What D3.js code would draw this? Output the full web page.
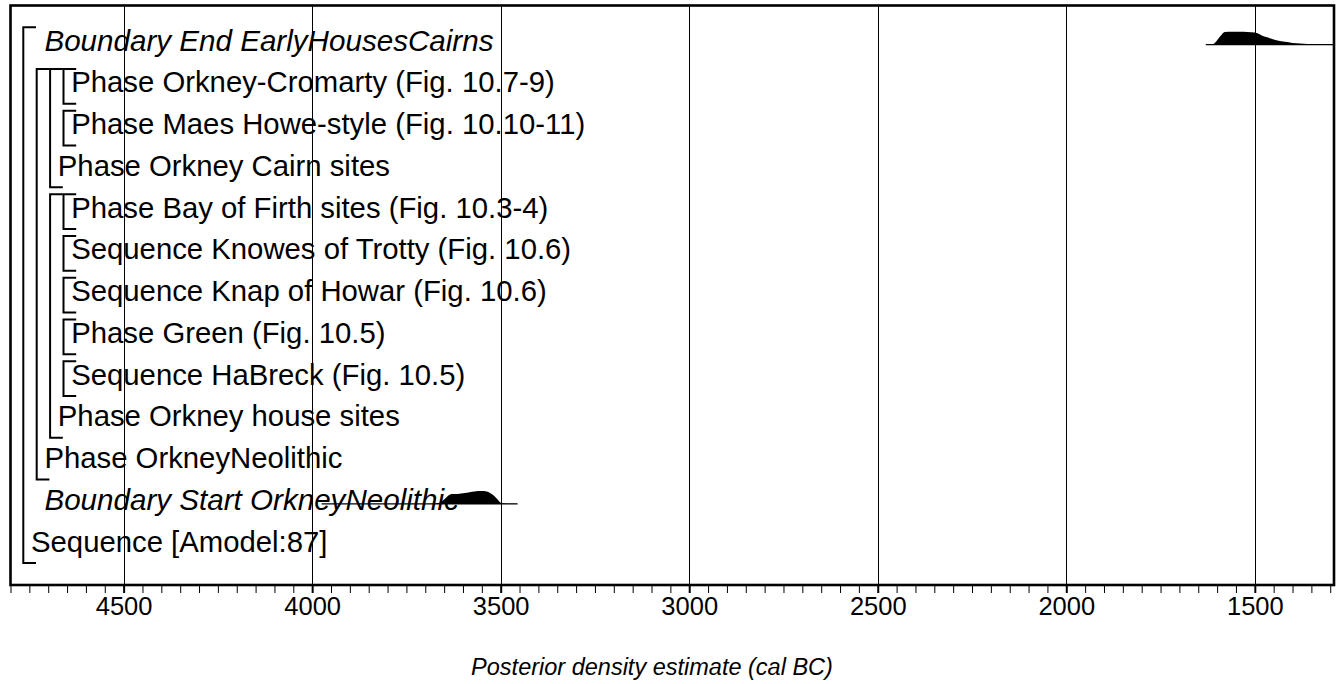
<!DOCTYPE html>
<html>
<head>
<meta charset="utf-8">
<script src="https://cdn.jsdelivr.net/npm/d3@7"></script>
<style>
  body { margin: 0; background: #fff; }
  svg text { font-family: "Liberation Sans", Arial, sans-serif; fill: #000; }
</style>
</head>
<body>
<svg id="chart" width="1337" height="684"></svg>
<script>
// OxCal-style multiplot: model structure with two boundary posteriors

const rowLabels = [
  "Boundary End EarlyHousesCairns",
  "Phase Orkney-Cromarty (Fig. 10.7-9)",
  "Phase Maes Howe-style (Fig. 10.10-11)",
  "Phase Orkney Cairn sites",
  "Phase Bay of Firth sites (Fig. 10.3-4)",
  "Sequence Knowes of Trotty (Fig. 10.6)",
  "Sequence Knap of Howar (Fig. 10.6)",
  "Phase Green (Fig. 10.5)",
  "Sequence HaBreck (Fig. 10.5)",
  "Phase Orkney house sites",
  "Phase OrkneyNeolithic",
  "Boundary Start OrkneyNeolithic",
  "Sequence [Amodel:87]"
];
const rowDepth = [1, 3, 3, 2, 3, 3, 3, 3, 3, 2, 1, 1, 0];
const rowItalic = [true, false, false, false, false, false, false, false, false, false, false, true, false];

// [first row, last row, nesting depth]
const brackets = [
  [0, 12, 0], [1, 10, 1], [1, 3, 2], [1, 1, 3], [2, 2, 3],
  [4, 9, 2], [4, 4, 3], [5, 5, 3], [6, 6, 3], [7, 7, 3], [8, 8, 3]
];

// posterior densities (cal BC, relative)
const endYears   = [1630, 1620, 1610, 1600, 1590, 1580, 1560, 1540, 1520, 1500, 1490, 1480, 1460, 1440, 1420, 1400, 1380, 1360, 1340, 1320, 1300, 1280, 1250];
const endDensity = [0, 0.01, 0.05, 0.35, 0.7, 0.98, 1.0, 0.99, 0.97, 0.94, 0.84, 0.68, 0.5, 0.33, 0.22, 0.14, 0.09, 0.05, 0.03, 0.015, 0.008, 0.004, 0];
const startYears   = [3975, 3800, 3700, 3680, 3670, 3660, 3650, 3640, 3630, 3620, 3610, 3600, 3590, 3580, 3570, 3560, 3550, 3540, 3530, 3520, 3510, 3500, 3490, 3480, 3455];
const startDensity = [0, 0, 0.005, 0.02, 0.05, 0.12, 0.35, 0.6, 0.72, 0.76, 0.79, 0.82, 0.86, 0.92, 0.96, 0.99, 1.0, 0.97, 0.88, 0.68, 0.4, 0.1, 0.03, 0.01, 0];

const distributions = [
  { row: 0, years: endYears, density: endDensity },
  { row: 11, years: startYears, density: startDensity }
];

const gridYears = [4500, 4000, 3500, 3000, 2500, 2000, 1500];
const tickYears = d3.range(4800, 1290, -50);
const axisTitle = "Posterior density estimate (cal BC)";

// layout
const svg = d3.select('#chart');
const plotLeft = 10.5, plotRight = 1334, plotTop = 5.5, plotBottom = 585;

const x = d3.scaleLinear().domain([4800, 1290]).range([plotLeft, plotRight]);
const y = d3.scaleBand().domain(d3.range(rowLabels.length)).range([17.7, 560.45]);
const h = d3.scaleLinear().domain([0, 1]).range([0, 13]);
const baseline = i => y(i) + 33;
const indent = 13.4;

svg.append('rect').attr('width', 1337).attr('height', 684).attr('fill', '#fff');

svg.append('clipPath').attr('id', 'plot-clip')
  .append('rect')
  .attr('x', plotLeft).attr('y', plotTop)
  .attr('width', plotRight - plotLeft).attr('height', plotBottom - plotTop);

// grid lines
svg.append('g').selectAll('line')
  .data(gridYears)
  .enter().append('line')
  .attr('x1', d => Math.round(x(d)) + 0.5)
  .attr('x2', d => Math.round(x(d)) + 0.5)
  .attr('y1', plotTop)
  .attr('y2', plotBottom)
  .attr('stroke', '#000')
  .attr('stroke-width', 1);

// distributions
const plot = svg.append('g').attr('clip-path', 'url(#plot-clip)');
distributions.forEach(dist => {
  const pts = dist.years.map((yr, i) => ({ yr: yr, p: dist.density[i] }));
  const b = baseline(dist.row) - 6;
  const area = d3.area()
    .x(d => x(d.yr))
    .y0(b)
    .y1(d => b - h(d.p))
    .curve(d3.curveMonotoneX);
  plot.append('path')
    .datum(pts)
    .attr('d', area)
    .attr('fill', '#000');
  plot.append('line')
    .attr('x1', x(d3.max(dist.years)))
    .attr('x2', x(d3.min(dist.years)))
    .attr('y1', b)
    .attr('y2', b)
    .attr('stroke', '#000')
    .attr('stroke-width', 1.2);
});

// row labels
svg.append('g').selectAll('text')
  .data(rowLabels)
  .enter().append('text')
  .attr('x', (d, i) => 31 + rowDepth[i] * indent)
  .attr('y', (d, i) => baseline(i))
  .style('font-size', (d, i) => rowItalic[i] ? '29.6px' : '29.3px')
  .style('font-style', (d, i) => rowItalic[i] ? 'italic' : 'normal')
  .text(d => d);

// structure brackets
svg.append('g').selectAll('path')
  .data(brackets)
  .enter().append('path')
  .attr('d', d => {
    const bx = 23.3 + d[2] * indent;
    const y0 = y(d[0]) + 9.5;
    const y1 = y(d[1]) + y.bandwidth() + 2.5;
    return `M${bx + 12.7},${y0}H${bx}V${y1}H${bx + 12.7}`;
  })
  .attr('fill', 'none')
  .attr('stroke', '#000')
  .attr('stroke-width', 2);

// frame
svg.append('rect')
  .attr('x', plotLeft).attr('y', plotTop)
  .attr('width', plotRight - plotLeft).attr('height', plotBottom - plotTop)
  .attr('fill', 'none')
  .attr('stroke', '#000')
  .attr('stroke-width', 2.6);

// axis
const axis = svg.append('g')
  .attr('transform', `translate(0,${plotBottom + 1})`)
  .call(d3.axisBottom(x)
    .tickValues(tickYears)
    .tickSize(7)
    .tickSizeOuter(0)
    .tickPadding(4)
    .tickFormat(d => d % 500 === 0 ? d : ''));
axis.select('.domain').remove();
axis.selectAll('.tick line')
  .attr('stroke', '#000')
  .attr('stroke-width', d => d % 500 === 0 ? 2 : 1);
axis.selectAll('.tick text')
  .style('font-size', '25.5px')
  .style('font-family', '"Liberation Sans", Arial, sans-serif')
  .attr('fill', '#000');

svg.append('text')
  .attr('x', 652)
  .attr('y', 675)
  .attr('text-anchor', 'middle')
  .style('font-size', '23.5px')
  .style('font-style', 'italic')
  .text(axisTitle);
</script>
</body>
</html>
